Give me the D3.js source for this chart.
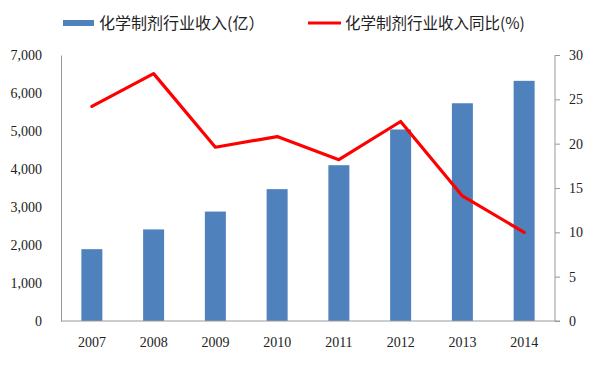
<!DOCTYPE html>
<html><head><meta charset="utf-8">
<script src="https://cdn.jsdelivr.net/npm/d3@7"></script>
<style>body{margin:0;background:#fff}svg{display:block}</style>
</head><body>
<svg id="c" width="600" height="372"></svg>
<script>
const years = ["2007","2008","2009","2010","2011","2012","2013","2014"];
const revenue = [1890, 2410, 2880, 3470, 4100, 5040, 5730, 6320];
const yoy = [24.2, 27.9, 19.6, 20.8, 18.2, 22.5, 14.1, 10.0];
const leftTicks = [0,1000,2000,3000,4000,5000,6000,7000];
const rightTicks = [0,5,10,15,20,25,30];
const legendLabels = ["化学制剂行业收入(亿）", "化学制剂行业收入同比(%)"];

const svg = d3.select("#c");
const L = 61, R = 555, T = 55, B = 321;
const x = d3.scaleBand().domain(years).range([L, R]).paddingInner(0.66).paddingOuter(0.33);
const yL = d3.scaleLinear().domain([0, 7000]).range([B, T]);
const yR = d3.scaleLinear().domain([0, 30]).range([B, T]);
const fmt = d3.format(",");
const serif = "'Liberation Serif','Times New Roman',serif";
const cjk = "'Noto Sans CJK SC','Noto Sans',sans-serif";

// bars
svg.append("g").selectAll("rect").data(revenue).join("rect")
  .attr("x", (d,i) => x(years[i]))
  .attr("width", x.bandwidth())
  .attr("y", d => yL(d))
  .attr("height", d => B - yL(d))
  .attr("fill", "#4F81BD");

// left axis
const gl = svg.append("g").attr("transform", `translate(${L},0)`)
  .call(d3.axisLeft(yL).tickValues(leftTicks).tickFormat(fmt).tickSize(0).tickPadding(19));
gl.select(".domain").attr("stroke", "#999");
gl.selectAll("text").attr("font-family", serif).attr("font-size", 14).attr("fill", "#222");

// right axis
const gr = svg.append("g").attr("transform", `translate(${R},0)`)
  .call(d3.axisRight(yR).tickValues(rightTicks).tickSize(5).tickPadding(9));
gr.select(".domain").attr("stroke", "#999").attr("d", `M0,${T}V${B}`);
gr.selectAll("line").attr("stroke", "#999");
gr.selectAll("text").attr("font-family", serif).attr("font-size", 14).attr("fill", "#222");

// bottom axis
const gb = svg.append("g").attr("transform", `translate(0,${B})`)
  .call(d3.axisBottom(x).tickSize(0).tickPadding(16));
gb.select(".domain").attr("stroke", "#999").attr("d", `M${L},0H${R+5}`);
gb.selectAll("text").attr("font-family", serif).attr("font-size", 14).attr("fill", "#222");

// line
const line = d3.line().x((d,i) => x(years[i]) + x.bandwidth()/2).y(d => yR(d));
svg.append("path").datum(yoy).attr("d", line)
  .attr("fill", "none").attr("stroke", "#FF0000").attr("stroke-width", 3.2)
  .attr("stroke-linejoin", "round").attr("stroke-linecap", "round");

// legend
const lg = svg.append("g");
lg.append("rect").attr("x", 63).attr("y", 20).attr("width", 31).attr("height", 6).attr("fill", "#4F81BD");
lg.append("text").attr("x", 99).attr("y", 29).text(legendLabels[0])
  .attr("font-family", cjk).attr("font-size", 16).attr("fill", "#222");
lg.append("line").attr("x1", 308).attr("x2", 341).attr("y1", 23).attr("y2", 23)
  .attr("stroke", "#FF0000").attr("stroke-width", 3);
lg.append("text").attr("x", 345).attr("y", 29).text(legendLabels[1])
  .attr("font-family", cjk).attr("font-size", 15.5).attr("fill", "#222");
</script>
</body></html>
